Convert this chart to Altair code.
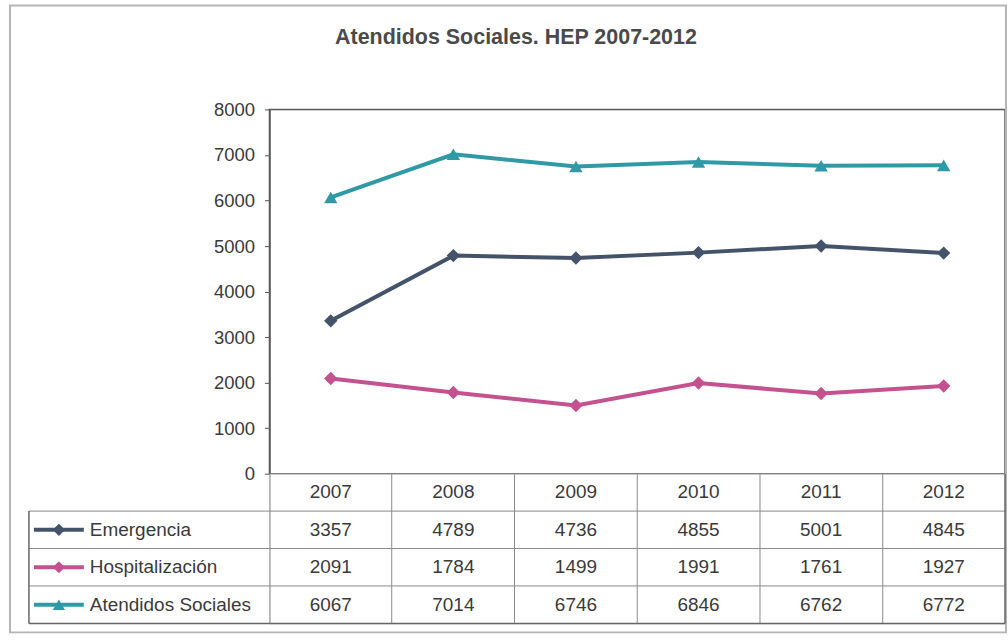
import altair as alt
import pandas as pd

title = "Atendidos Sociales. HEP 2007-2012"
years = ["2007", "2008", "2009", "2010", "2011", "2012"]
series_names = ["Emergencia", "Hospitalización", "Atendidos Sociales"]
emergencia = [3357, 4789, 4736, 4855, 5001, 4845]
hospitalizacion = [2091, 1784, 1499, 1991, 1761, 1927]
atendidos = [6067, 7014, 6746, 6846, 6762, 6772]
y_ticks = [0, 1000, 2000, 3000, 4000, 5000, 6000, 7000, 8000]
colors = ["#45536a", "#c4528f", "#2f9aa6"]
shapes = ["diamond", "diamond", "triangle-up"]

rows = []
for name, vals in zip(series_names, [emergencia, hospitalizacion, atendidos]):
    for yr, v in zip(years, vals):
        rows.append({"year": yr, "series": name, "value": v, "row": name, "label": str(v)})
df = pd.DataFrame(rows)

hdr = pd.DataFrame({"year": years, "row": ["hdr"] * len(years), "label": years})
table_df = pd.concat([hdr, df[["year", "row", "label"]]], ignore_index=True)
lab_df = pd.DataFrame({"series": series_names, "row": series_names})
table_rows = ["hdr"] + series_names

W, PH, TH = 737, 365, 150
FONT = "Liberation Sans"

xscale = alt.Scale(type="band", domain=years, paddingInner=0, paddingOuter=0)
color = alt.Color("series:N", scale=alt.Scale(domain=series_names, range=colors), legend=None)
shape = alt.Shape("series:N", scale=alt.Scale(domain=series_names, range=shapes), legend=None)

x_top = alt.X("year:N", scale=xscale, axis=None)
y_top = alt.Y(
    "value:Q",
    scale=alt.Scale(domain=[0, 8000], nice=False),
    axis=alt.Axis(values=y_ticks, format="d", grid=False, title=None, tickSize=5, labelPadding=10,
                  labelFontSize=18.5, labelColor="#3a3a3a", domainColor="#555",
                  tickColor="#555", domainWidth=1.5, labelFont=FONT),
)

one = pd.DataFrame({"a": [0]})
base = alt.Chart(df)
plot_border = alt.Chart(one).mark_rect(fillOpacity=0, stroke="#5a5a5a", strokeWidth=1.5).encode(
    x=alt.value(0), x2=alt.value(W), y=alt.value(0), y2=alt.value(PH))
lines = base.mark_line(strokeWidth=4).encode(x=x_top, y=y_top, color=color)
points = base.mark_point(filled=True, size=180, opacity=1).encode(x=x_top, y=y_top, color=color, shape=shape)
title_text = alt.Chart(pd.DataFrame({"t": [title]})).mark_text(
    fontSize=21.5, fontWeight="bold", color="#4a4a4a", align="center", baseline="middle", font=FONT
).encode(text="t:N", x=alt.value(247), y=alt.value(-72))

top = alt.layer(plot_border, lines, points, title_text).properties(width=W, height=PH)

yscale_tab = alt.Scale(type="band", domain=table_rows, paddingInner=0, paddingOuter=0)
yrow = alt.Y("row:N", scale=yscale_tab, axis=None)
xtab = alt.X("year:N", scale=xscale,
             axis=alt.Axis(grid=True, bandPosition=0, labels=False, ticks=False, domain=False,
                           title=None, gridColor="#8a8a8a", gridWidth=1))

cells = alt.Chart(table_df).mark_text(fontSize=19, color="#3a3a3a", font=FONT, baseline="middle").encode(
    x=xtab, y=yrow, text="label:N")

row_labels = alt.Chart(lab_df).mark_text(align="left", fontSize=19, color="#3a3a3a", baseline="middle", font=FONT).encode(
    y=yrow, x=alt.value(-180), text="row:N")
sym_lines = alt.Chart(lab_df).mark_rule(strokeWidth=4).encode(
    y=yrow, x=alt.value(-236), x2=alt.value(-186), color=color)
sym_pts = alt.Chart(lab_df).mark_point(filled=True, size=150, opacity=1).encode(
    y=yrow, x=alt.value(-211), color=color, shape=shape)

hlines = alt.Chart(lab_df).mark_rule(color="#8a8a8a", strokeWidth=1).encode(
    y=alt.Y("row:N", scale=yscale_tab, axis=None, bandPosition=0),
    x=alt.value(-241), x2=alt.value(W))
bottom_line = alt.Chart(one).mark_rule(color="#666", strokeWidth=1.5).encode(
    x=alt.value(-241), x2=alt.value(W), y=alt.value(TH))
left_line = alt.Chart(one).mark_rule(color="#666", strokeWidth=1.5).encode(
    x=alt.value(-241), y=alt.value(TH / 4), y2=alt.value(TH))
right_line = alt.Chart(one).mark_rule(color="#666", strokeWidth=1.5).encode(
    x=alt.value(W), y=alt.value(0), y2=alt.value(TH))
frame = alt.Chart(one).mark_rect(fillOpacity=0, stroke="#b5b5b5", strokeWidth=2).encode(
    x=alt.value(-260), x2=alt.value(W + 1), y=alt.value(-469), y2=alt.value(TH + 9))

bottom = alt.layer(frame, hlines, bottom_line, left_line, right_line, cells, row_labels, sym_lines, sym_pts).properties(
    width=W, height=TH)

chart = alt.vconcat(top, bottom, spacing=0, bounds="flush").properties(
    padding={"left": 8, "top": 3, "right": 0, "bottom": 0},
    background="white",
).configure_view(stroke="#666", strokeWidth=1.5).configure(font=FONT)

chart.save("out.html", embed_options={"renderer": "svg", "actions": False})
